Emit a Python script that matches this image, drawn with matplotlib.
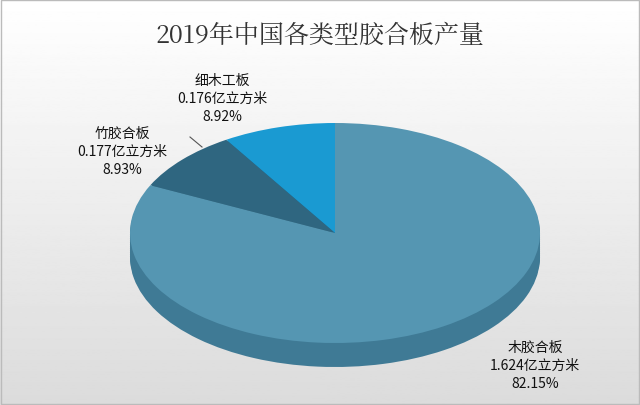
import matplotlib
matplotlib.use("Agg")
import matplotlib.pyplot as plt
import numpy as np
from matplotlib.transforms import Affine2D

plt.rcParams['font.family'] = ['Noto Sans CJK SC', 'DejaVu Sans']

labels = ["细木工板", "竹胶合板", "木胶合板"]
values = [0.176, 0.177, 1.624]
percents = ["8.92%", "8.93%", "82.15%"]
top_colors = ["#1a9ad2", "#2f6680", "#5596b2"]
side_colors = ["#147aa8", "#244f64", "#3f7a95"]

W, H = 640, 406
fig = plt.figure(figsize=(W / 100, H / 100), dpi=100)
ax = fig.add_axes([0, 0, 1, 1])
ax.set_xlim(0, W)
ax.set_ylim(0, H)
ax.axis("off")

# background gradient + border
grad = np.linspace(1, 0.86, 256).reshape(-1, 1)
ax.imshow(grad, extent=[0, W, 0, H], cmap="gray", vmin=0, vmax=1, aspect="auto", zorder=0)
ax.add_patch(plt.Rectangle((1, 1), W - 2, H - 2, fill=False, ec="#bbbbbb", lw=1, zorder=1))

cx, cy, rx, ry, depth = 335, 172, 205, 110, 24

def draw_pie(dy, colors, z):
    wedges, _ = ax.pie(values, colors=colors, startangle=90, counterclock=True,
                       radius=rx, center=(0, 0), frame=True,
                       wedgeprops=dict(lw=0))
    tr = Affine2D().scale(1, ry / rx).translate(cx, cy + dy) + ax.transData
    for w in wedges:
        w.set_transform(tr)
        w.set_zorder(z)

for i, dy in enumerate(range(-depth, 0, 2)):
    draw_pie(dy, side_colors, 2 + i * 0.01)
draw_pie(0, top_colors, 3)
ax.set_aspect("auto")
ax.set_xlim(0, W)
ax.set_ylim(0, H)
ax.axis("off")

ax.text(320, 370, "2019年中国各类型胶合板产量", ha="center", va="center",
        fontsize=18, color="#333333",
        family=["Noto Serif CJK SC", "DejaVu Serif", "Noto Sans CJK SC"])

label_pos = [(222, 307), (122, 254), (535, 40)]
for (x, y), lab, v, p in zip(label_pos, labels, values, percents):
    ax.text(x, y, f"{lab}\n{v:.3f}亿立方米\n{p}", ha="center", va="center",
            fontsize=10, color="#111111", linespacing=1.35, zorder=5)
ax.plot([190, 202], [268, 258], color="#555555", lw=0.8, zorder=5)

fig.savefig("out.png", dpi=100)
